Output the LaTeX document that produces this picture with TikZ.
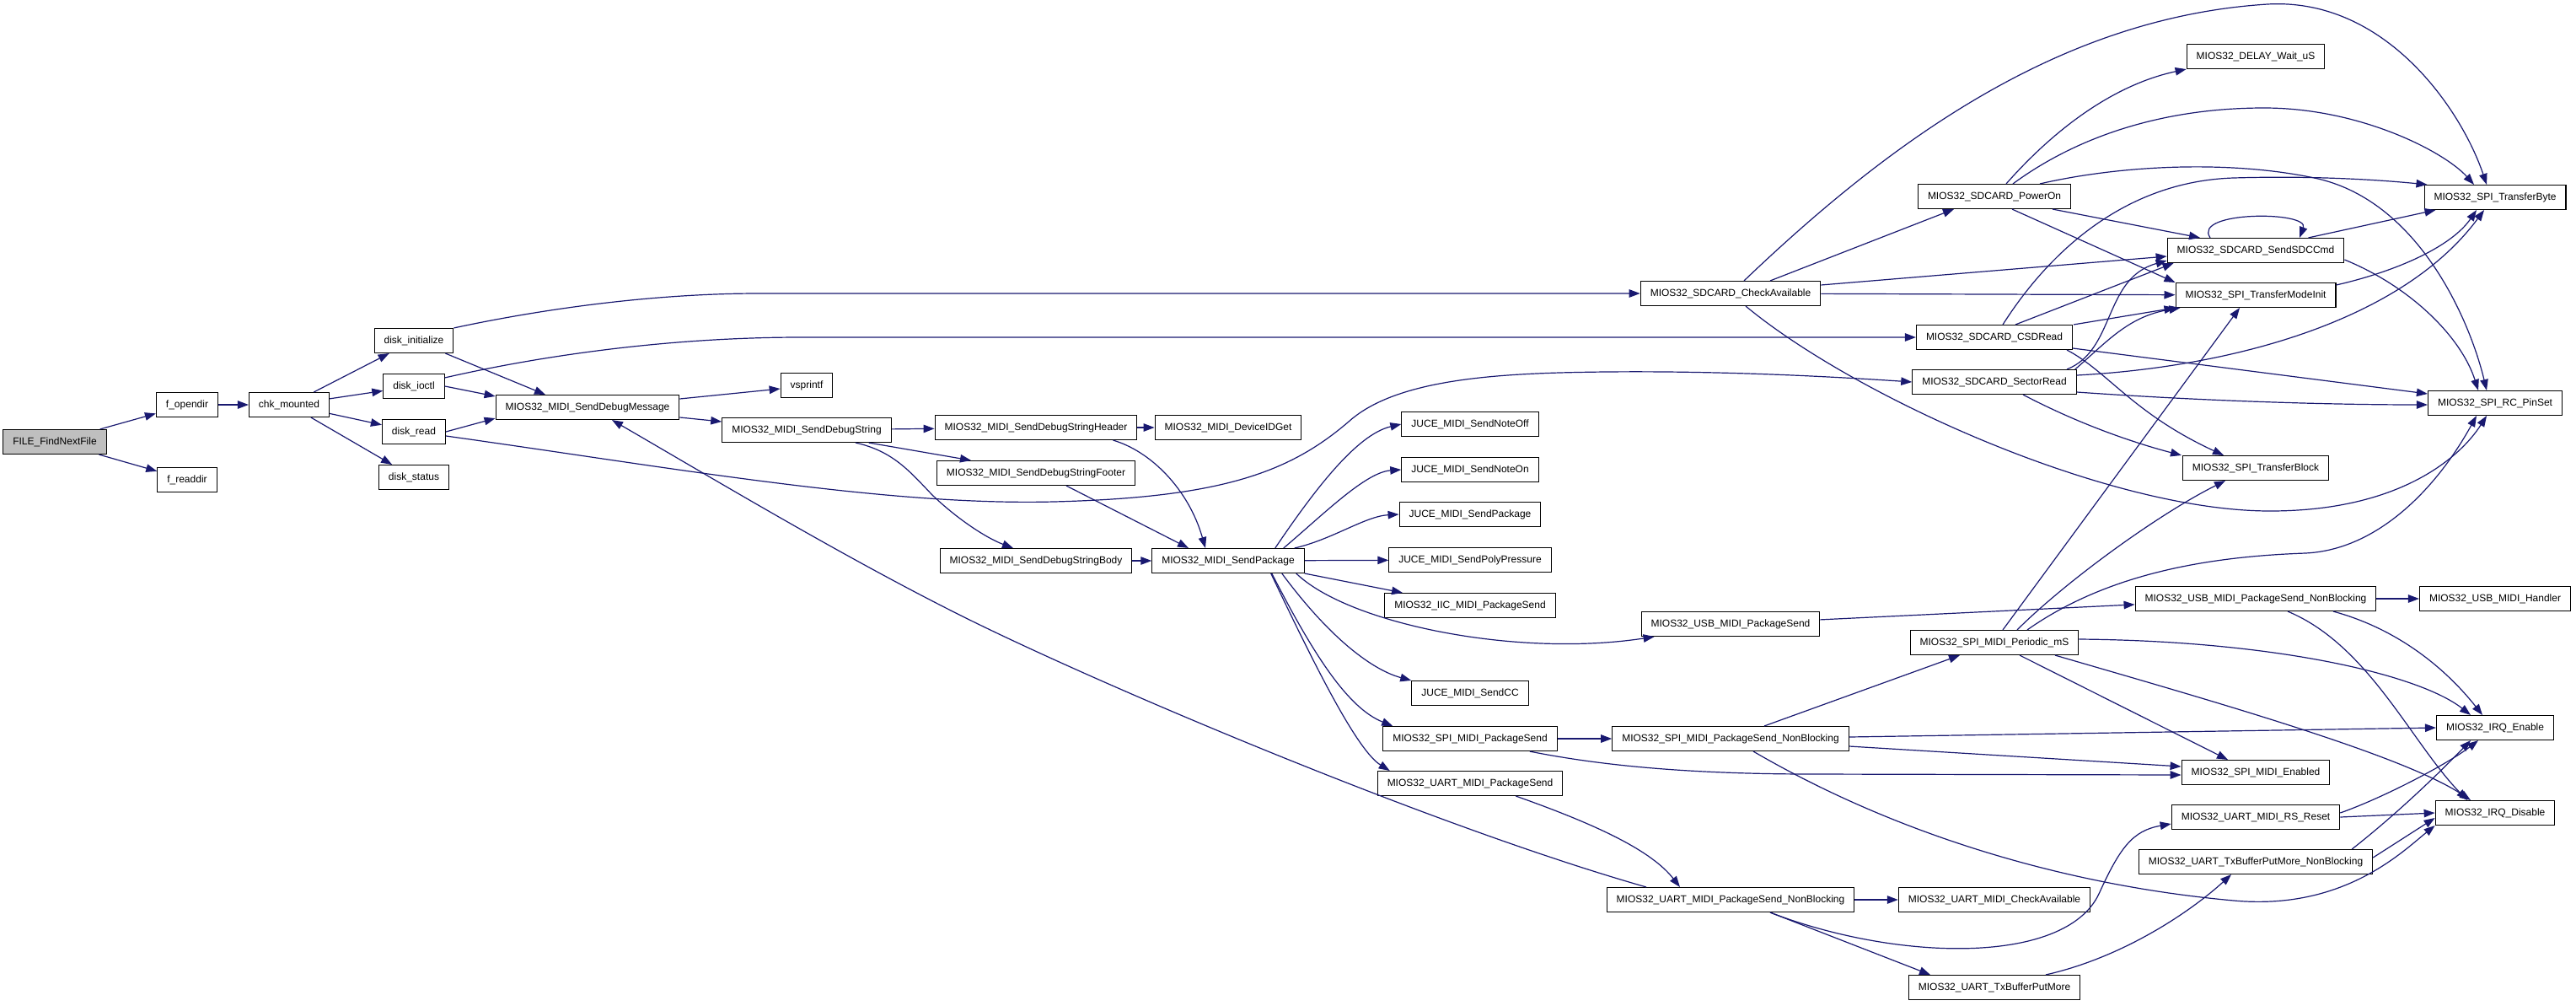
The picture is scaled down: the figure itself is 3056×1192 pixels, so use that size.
\documentclass[tikz,border=0pt]{standalone}
\usepackage{fontspec}
\setmainfont{Liberation Sans}
\usetikzlibrary{arrows.meta}
\definecolor{edgeblue}{HTML}{191970}
\definecolor{rootfill}{HTML}{BFBFBF}
\tikzset{
  fn/.style={draw=black, line width=1.1pt, fill=white, rectangle, inner xsep=11.5pt, inner ysep=0pt,
    minimum height=29pt, font=\fontsize{12}{14}\selectfont, text height=9pt, text depth=2.5pt},
  call/.style={draw=edgeblue, line width=1.2pt, -{Triangle[length=13pt,width=9.5pt]}, fill=none}
}
\begin{document}
\begin{tikzpicture}[x=1pt,y=-1pt]
\path[use as bounding box] (0,0) rectangle (3056,1192);
% nodes
\node[fn, fill=rootfill] (ffnf) at (65,524) {FILE\_FindNextFile};
\node[fn] (fopendir) at (222,480) {f\_opendir};
\node[fn] (freaddir) at (222,569) {f\_readdir};
\node[fn] (chk) at (343,480) {chk\_mounted};
\node[fn] (dinit) at (491,404) {disk\_initialize};
\node[fn] (dioctl) at (491,458) {disk\_ioctl};
\node[fn] (dread) at (491,512) {disk\_read};
\node[fn] (dstatus) at (491,566) {disk\_status};
\node[fn] (sdm) at (697,483) {MIOS32\_MIDI\_SendDebugMessage};
\node[fn] (vsprintf) at (957,457) {vsprintf};
\node[fn] (sds) at (957,510) {MIOS32\_MIDI\_SendDebugString};
\node[fn] (hdr) at (1229,507) {MIOS32\_MIDI\_SendDebugStringHeader};
\node[fn] (ftr) at (1229,561) {MIOS32\_MIDI\_SendDebugStringFooter};
\node[fn] (body) at (1229,665) {MIOS32\_MIDI\_SendDebugStringBody};
\node[fn] (devid) at (1457,507) {MIOS32\_MIDI\_DeviceIDGet};
\node[fn] (sendpkg) at (1457,665) {MIOS32\_MIDI\_SendPackage};
\node[fn] (noteoff) at (1744,503) {JUCE\_MIDI\_SendNoteOff};
\node[fn] (noteon) at (1744,557) {JUCE\_MIDI\_SendNoteOn};
\node[fn] (jucepkg) at (1744,610) {JUCE\_MIDI\_SendPackage};
\node[fn] (poly) at (1744,664) {JUCE\_MIDI\_SendPolyPressure};
\node[fn] (iic) at (1744,718) {MIOS32\_IIC\_MIDI\_PackageSend};
\node[fn] (cc) at (1744,822) {JUCE\_MIDI\_SendCC};
\node[fn] (spipkg) at (1744,876) {MIOS32\_SPI\_MIDI\_PackageSend};
\node[fn] (uartpkg) at (1744,929) {MIOS32\_UART\_MIDI\_PackageSend};
\node[fn] (chkavail) at (2053,348) {MIOS32\_SDCARD\_CheckAvailable};
\node[fn] (usbpkg) at (2053,740) {MIOS32\_USB\_MIDI\_PackageSend};
\node[fn] (spinb) at (2053,876) {MIOS32\_SPI\_MIDI\_PackageSend\_NonBlocking};
\node[fn] (uartnb) at (2053,1067) {MIOS32\_UART\_MIDI\_PackageSend\_NonBlocking};
\node[fn] (poweron) at (2366,233) {MIOS32\_SDCARD\_PowerOn};
\node[fn] (csd) at (2366,400) {MIOS32\_SDCARD\_CSDRead};
\node[fn] (sector) at (2366,453) {MIOS32\_SDCARD\_SectorRead};
\node[fn] (periodic) at (2366,762) {MIOS32\_SPI\_MIDI\_Periodic\_mS};
\node[fn] (uartchk) at (2366,1067) {MIOS32\_UART\_MIDI\_CheckAvailable};
\node[fn] (txput) at (2366,1171) {MIOS32\_UART\_TxBufferPutMore};
\node[fn] (delay) at (2676,67) {MIOS32\_DELAY\_Wait\_uS};
\node[fn] (sdccmd) at (2676,297) {MIOS32\_SDCARD\_SendSDCCmd};
\node[fn] (tmi) at (2676,350) {MIOS32\_SPI\_TransferModeInit};
\node[fn] (tblock) at (2676,555) {MIOS32\_SPI\_TransferBlock};
\node[fn] (usbnb) at (2676,710) {MIOS32\_USB\_MIDI\_PackageSend\_NonBlocking};
\node[fn] (spien) at (2676,916) {MIOS32\_SPI\_MIDI\_Enabled};
\node[fn] (rsreset) at (2676,969) {MIOS32\_UART\_MIDI\_RS\_Reset};
\node[fn] (txputnb) at (2676,1022) {MIOS32\_UART\_TxBufferPutMore\_NonBlocking};
\node[fn] (tbyte) at (2960,234) {MIOS32\_SPI\_TransferByte};
\node[fn] (rcpin) at (2960,478) {MIOS32\_SPI\_RC\_PinSet};
\node[fn] (usbh) at (2960,710) {MIOS32\_USB\_MIDI\_Handler};
\node[fn] (irqen) at (2960,863) {MIOS32\_IRQ\_Enable};
\node[fn] (irqdis) at (2960,964) {MIOS32\_IRQ\_Disable};
% edges, left part
\draw[call] (ffnf) -- (fopendir);
\draw[call] (ffnf) -- (freaddir);
\draw[call] (fopendir) -- (chk);
\draw[call] (chk) -- (dinit);
\draw[call] (chk) -- (dioctl);
\draw[call] (chk) -- (dread);
\draw[call] (chk) -- (dstatus);
\draw[call] (dinit.north east) .. controls (650,365) and (780,348) .. (900,348) -- (chkavail.west);
\draw[call] ([xshift=-10pt]dinit.south east) -- ([xshift=-50pt]sdm.north);
\draw[call] ([yshift=-5pt]dioctl.north east) .. controls (650,420) and (800,400) .. (950,400) -- (csd.west);
\draw[call] (dioctl.east) -- ([yshift=-2pt]sdm.north west);
\draw[call] (dread.east) -- ([yshift=2pt]sdm.south west);
\draw[call] ([yshift=-5pt]dread.east) .. controls (800,555) and (1050,600) .. (1250,595) .. controls (1450,590) and (1530,560) .. (1600,500) .. controls (1650,455) and (1750,445) .. (1850,442) .. controls (2000,438) and (2150,445) .. (sector.west);
\draw[call] ([yshift=10pt]sdm.east) -- ([yshift=-4pt]vsprintf.west);
\draw[call] ([yshift=-12pt]sdm.east) -- ([yshift=10pt]sds.west);
\draw[call] (sds) -- (hdr);
\draw[call] ([xshift=-27pt]sds.south east) -- ([xshift=-77pt]ftr.north);
\draw[call] ([xshift=58pt]sds.south) .. controls (1060,535) and (1080,560) .. (1106,587) .. controls (1135,615) and (1170,638) .. ([xshift=-27pt]body.north);
\draw[call] (hdr) -- (devid);
\draw[call] ([xshift=-29pt]hdr.south east) .. controls (1365,535) and (1410,580) .. ([xshift=-27pt]sendpkg.north);
\draw[call] ([xshift=36pt]ftr.south) -- ([xshift=-47pt]sendpkg.north);
\draw[call] (body) -- (sendpkg);
% SendPackage fan
\draw[call] ([xshift=-35pt]sendpkg.north east) .. controls (1560,580) and (1610,515) .. (noteoff.west);
\draw[call] ([xshift=-25pt]sendpkg.north east) .. controls (1570,610) and (1620,560) .. (noteon.west);
\draw[call] ([xshift=-12pt]sendpkg.north east) .. controls (1580,640) and (1620,612) .. (jucepkg.west);
\draw[call] (sendpkg) -- (poly);
\draw[call] (sendpkg.south east) -- ([xshift=-80pt]iic.north);
\draw[call] ([xshift=-10pt]sendpkg.south east) .. controls (1600,740) and (1800,780) .. ([xshift=16pt]usbpkg.south west);
\draw[call] ([xshift=-27pt]sendpkg.south east) .. controls (1580,760) and (1630,795) .. (cc.north west);
\draw[call] ([xshift=-39pt]sendpkg.south east) .. controls (1560,780) and (1600,840) .. ([xshift=12pt]spipkg.north west);
\draw[call] ([xshift=-40pt]sendpkg.south east) .. controls (1560,790) and (1610,890) .. ([xshift=15pt]uartpkg.north west);
% transport layer
\draw[call] (spipkg) -- (spinb);
\draw[call] ([xshift=-33pt]spipkg.south east) .. controls (1880,904) and (1980,918) .. (2150,918) -- ([yshift=-3pt]spien.west);
\draw[call] ([xshift=-56pt]uartpkg.south east) .. controls (1900,980) and (1960,1010) .. ([xshift=-60pt]uartnb.north);
\draw[call] (usbpkg) -- (usbnb);
\draw[call] ([xshift=40pt]spinb.north) -- ([xshift=-41pt]periodic.south);
\draw[call] ([yshift=2pt]spinb.east) -- (irqen.west);
\draw[call] ([yshift=-9pt]spinb.east) -- ([yshift=7pt]spien.west);
\draw[call] ([xshift=27pt]spinb.south) .. controls (2250,990) and (2450,1050) .. (2650,1068) .. controls (2780,1080) and (2850,1010) .. (irqdis.south west);
\draw[call] ([xshift=10pt]periodic.north) -- ([xshift=-19pt]tmi.south);
\draw[call] ([xshift=27pt]periodic.north) .. controls (2450,690) and (2560,610) .. ([xshift=-36pt]tblock.south);
\draw[call] ([xshift=39pt]periodic.north) .. controls (2500,680) and (2620,660) .. (2735,656) .. controls (2820,652) and (2890,580) .. ([xshift=-22pt]rcpin.south);
\draw[call] ([yshift=4pt]periodic.east) .. controls (2700,760) and (2870,800) .. ([xshift=-29pt]irqen.north);
\draw[call] ([xshift=30pt]periodic.south) -- ([xshift=-33pt]spien.north);
\draw[call] ([xshift=72pt]periodic.south) .. controls (2620,830) and (2850,895) .. ([xshift=-29pt]irqdis.north);
\draw[call] (usbnb) -- (usbh);
\draw[call] ([xshift=92pt]usbnb.south) .. controls (2860,750) and (2915,810) .. ([xshift=-15pt]irqen.north);
\draw[call] ([xshift=38pt]usbnb.south) .. controls (2810,765) and (2860,880) .. ([xshift=-33pt]irqdis.north);
\draw[call] (uartnb) -- (uartchk);
\draw[call] ([xshift=47pt]uartnb.south) .. controls (2250,1140) and (2450,1145) .. (2490,1060) .. controls (2515,1005) and (2530,985) .. ([yshift=-8pt]rsreset.west);
\draw[call] ([xshift=47pt]uartnb.south) -- ([xshift=-76pt]txput.north);
\draw[call] ([xshift=-100pt]uartnb.north) .. controls (1700,980) and (1300,810) .. (1140,730) .. controls (1000,660) and (850,570) .. ([xshift=29pt]sdm.south);
\draw[call] ([xshift=61pt]txput.north) .. controls (2520,1135) and (2600,1080) .. ([xshift=-29pt]txputnb.south);
\draw[call] ([yshift=5pt]rsreset.east) .. controls (2830,945) and (2905,905) .. ([xshift=-20pt]irqen.south);
\draw[call] (rsreset.east) -- (irqdis.west);
\draw[call] ([xshift=-25pt]txputnb.north east) .. controls (2850,960) and (2900,910) .. ([xshift=-29pt]irqen.south);
\draw[call] ([yshift=5pt]txputnb.east) -- ([yshift=-6pt]irqdis.west);
% SD card part
\draw[call] ([xshift=47pt]chkavail.north) -- ([xshift=-48pt]poweron.south);
\draw[call] ([xshift=16pt]chkavail.north) .. controls (2250,160) and (2450,20) .. (2690,5) .. controls (2830,-3) and (2920,130) .. ([xshift=-10pt]tbyte.north);
\draw[call] ([yshift=10pt]chkavail.east) -- ([yshift=-7pt]sdccmd.west);
\draw[call] (chkavail) -- (tmi);
\draw[call] ([xshift=18pt]chkavail.south) .. controls (2200,470) and (2500,606) .. (2693,606) .. controls (2850,606) and (2920,540) .. ([xshift=-10pt]rcpin.south);
\draw[call] ([xshift=14pt]poweron.north) .. controls (2440,150) and (2510,100) .. (delay.south west);
\draw[call] ([xshift=22pt]poweron.north) .. controls (2460,165) and (2560,128) .. (2686,128) .. controls (2800,128) and (2900,180) .. ([xshift=-25pt]tbyte.north);
\draw[call] ([xshift=69pt]poweron.south) -- ([xshift=-66pt]sdccmd.north);
\draw[call] ([xshift=21pt]poweron.south) -- (tmi.north west);
\draw[call] ([xshift=54pt]poweron.north) .. controls (2520,195) and (2650,190) .. (2750,212) .. controls (2870,240) and (2930,380) .. ([xshift=-10pt]rcpin.north);
\draw[call] ([xshift=-54pt]sdccmd.north) .. controls (2600,250) and (2740,250) .. ([xshift=52pt]sdccmd.north);
\draw[call] ([xshift=-43pt]sdccmd.north east) -- ([xshift=14pt]tbyte.south west);
\draw[call] ([yshift=-11pt]sdccmd.east) .. controls (2860,340) and (2920,400) .. ([xshift=-20pt]rcpin.north);
\draw[call] ([yshift=12pt]tmi.east) .. controls (2850,320) and (2910,290) .. ([xshift=-22pt]tbyte.south);
\draw[call] ([xshift=10pt]csd.north) .. controls (2430,300) and (2520,215) .. (2650,211) .. controls (2750,208) and (2830,214) .. ([xshift=4pt]tbyte.north west);
\draw[call] ([xshift=25pt]csd.north) -- ([xshift=8pt]sdccmd.south west);
\draw[call] ([xshift=94pt]csd.north) -- (tmi.south west);
\draw[call] ([yshift=-13pt]csd.east) -- ([yshift=11pt]rcpin.west);
\draw[call] ([xshift=86pt]csd.south) .. controls (2500,440) and (2530,490) .. ([xshift=-38pt]tblock.north);
\draw[call] ([xshift=86pt]sector.north) .. controls (2510,415) and (2495,330) .. ([yshift=3pt]sdccmd.south west);
\draw[call] ([xshift=-2pt]sector.north east) .. controls (2500,405) and (2525,375) .. ([xshift=6pt]tmi.south west);
\draw[call] ([yshift=8pt]sector.east) .. controls (2650,435) and (2850,380) .. ([xshift=-13pt]tbyte.south);
\draw[call] ([yshift=-12pt]sector.east) .. controls (2650,478) and (2800,480) .. ([yshift=-2pt]rcpin.west);
\draw[call] ([xshift=34pt]sector.south) .. controls (2480,510) and (2550,530) .. ([xshift=-88pt]tblock.north);
\end{tikzpicture}
\end{document}
